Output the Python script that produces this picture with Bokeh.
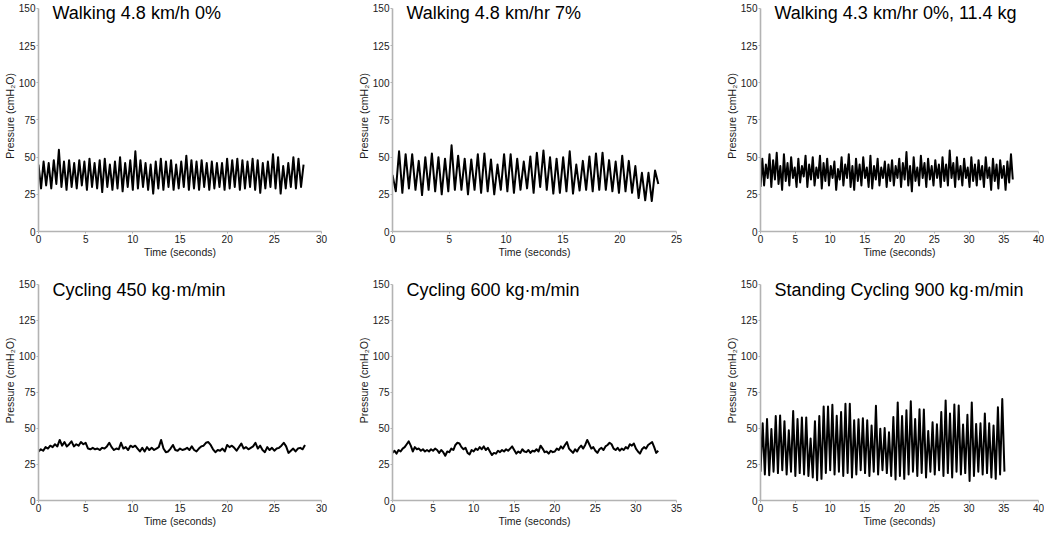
import numpy as np
from bokeh.plotting import figure
from bokeh.layouts import gridplot
from bokeh.models import Range1d, Label, FixedTicker
from bokeh.embed import file_html
from bokeh.resources import INLINE

# ---------------- data ----------------
titles = [
    "Walking 4.8 km/h 0%",
    "Walking 4.8 km/hr 7%",
    "Walking 4.3 km/hr 0%, 11.4 kg",
    "Cycling 450 kg\u00b7m/min",
    "Cycling 600 kg\u00b7m/min",
    "Standing Cycling 900 kg\u00b7m/min",
]
x_max = [30, 25, 40, 30, 35, 40]
y_ticks = [0, 25, 50, 75, 100, 125, 150]

# trace durations (seconds)
durations = [28.1, 23.4, 36.3, 28.25, 32.75, 35.1]

# pressure (cmH2O) at successive peaks / troughs / samples
walk_0 = [45, 29,
          47, 31, 46, 29, 48, 32, 55, 30, 47, 28, 48, 30, 46, 29, 48, 31, 47, 28, 49, 30,
          46, 29, 48, 26.5, 49, 30, 45, 28, 47, 29, 50, 27, 46, 30, 48, 28, 54, 29, 48, 30,
          46, 28, 45, 25.5, 47, 29, 49, 28, 47, 30, 48, 28, 45, 29, 47, 30, 51, 28, 48, 29,
          47, 28, 48, 30, 46, 28, 47, 29, 46, 30, 46, 28, 49, 29, 48, 30, 49, 28, 48, 29,
          47, 30, 49, 28, 48, 26, 46, 29, 47, 30, 52, 29, 50, 25.5, 44, 29, 46, 30, 50, 29,
          49, 30, 45]

walk_7 = [38, 27,
          54, 26, 52, 29, 52, 28, 47.5, 24.5, 50, 28, 52.5, 27, 50, 25, 49, 27, 58, 28,
          51, 28, 49, 25, 48.5, 28, 52, 26, 52.5, 27, 48.5, 25, 45, 28, 52, 27, 52, 26,
          49, 28, 47, 29, 50.5, 26, 53, 30, 54.5, 28, 50, 25.5, 49, 26, 50, 27, 54, 25.5,
          45, 27.5, 47.5, 28, 50.5, 27, 52.5, 28, 53, 28, 48, 27, 47, 26, 51, 27,
          47.5, 26, 44, 22.5, 39.5, 21, 39.5, 20.5, 41, 32]

walk_load = [30,
             49, 31, 45, 36, 52, 30, 48, 35, 53, 32, 44, 28, 52, 34, 46, 31, 50, 36, 43, 30,
             49, 33, 44, 37, 51, 30, 45, 35, 50, 31, 43, 36, 51, 29, 46, 34, 49, 31, 44, 36,
             47, 28, 42, 35, 50, 31, 45, 36, 52, 30, 44, 28, 49, 34, 45, 31, 50, 36, 43, 30,
             51, 29, 44, 35, 49, 31, 43, 36, 47, 30, 45, 34, 48, 31, 44, 36, 49, 30, 46, 35,
             53.5, 31, 44, 27, 50, 34, 43, 31, 51, 36, 46, 30, 49, 35, 44, 31, 48, 36, 45, 30,
             50, 34, 45, 31, 54.5, 36, 46, 30, 50, 35, 44, 31, 49, 36, 43, 30, 50, 34, 45, 31,
             48, 35, 44, 30, 50, 36, 43, 28, 49, 34, 45, 29, 48, 36, 44, 28, 47, 33, 52, 35]

cycle_450 = [34, 35.5, 34.5, 37, 36, 38, 37, 39, 37.5, 42, 38, 40.5, 37.5, 39, 41, 37.5,
             39, 38, 40.5, 39, 40, 36, 35.5, 36.5, 35.5, 36, 35, 36.5, 36, 37.5, 40, 37,
             35, 36, 35.5, 40, 36, 37, 35, 38, 37, 38, 36, 34, 36.5, 34, 37, 35,
             36.5, 35, 36, 37, 42, 36, 33.5, 34, 36, 38.5, 35, 34.5, 36, 35, 35.5, 36.5,
             35, 37.5, 35, 34, 36, 37.5, 38, 40, 40.5, 38.5, 35.5, 33.5, 35, 34.5, 36, 34,
             38.5, 37, 38, 36.5, 34.5, 37, 39.5, 36, 37, 35.5, 36.5, 37.5, 40, 36, 38, 35,
             33.5, 37, 35, 36.5, 34.5, 36, 36.5, 38, 40, 37.5, 33, 34.5, 36, 34, 36, 36.5,
             35.5, 38.5]

cycle_600 = [33, 34.5, 32.5, 35, 34, 36, 37, 39, 41, 38, 34, 37, 35.5, 36, 34.5, 35.5,
             34, 35, 34, 35.5, 34.5, 36, 35, 33, 35, 33.5, 31, 34, 33.5, 36, 35, 38.5,
             40, 39.5, 37, 35.5, 36.5, 33, 32, 35, 34, 36, 35, 37, 35.5, 37.5, 35, 36.5,
             34, 31.5, 33, 32.5, 34.5, 33.5, 35, 34, 35.5, 34.5, 36, 37.5, 35, 32.5, 34, 33,
             35.5, 34, 33.5, 35, 33, 34.5, 34, 35.5, 34, 38, 36, 33.5, 34, 32.5, 34.5, 33.5,
             34, 36, 35, 37.5, 36, 38.5, 40.5, 36, 34.5, 33, 35.5, 34, 36.5, 38, 36, 38.5,
             42, 39, 36, 37, 34.5, 33, 35.5, 36.5, 35, 37.5, 38.5, 40, 39, 36, 35, 36.5,
             34.5, 36, 35, 37, 36, 39, 38, 39.5, 36, 34, 32.5, 35.5, 37, 36, 38.5, 39.5,
             40.5, 37, 33, 34.5]

standing_900 = [20,
                53.5, 18, 56.5, 17.5, 49.5, 20, 58.5, 19, 59, 21, 55, 18, 48.7, 20, 62, 17,
                56.5, 19, 57.6, 18, 57.6, 17, 42.9, 16, 55, 14, 58.5, 15, 65.2, 19, 65.2, 21,
                66.3, 18, 58.7, 20, 61.4, 17, 67, 19, 67, 16, 55.6, 18, 56.3, 21, 57.1, 19,
                55.6, 17, 52, 20, 65.6, 18, 49.8, 21, 50.2, 19, 47.3, 17, 57.8, 14.5, 68, 17,
                58.5, 15, 62.5, 18, 68.8, 20, 56.5, 17, 63.2, 19, 63, 16, 48.2, 20, 54.2, 18,
                52.9, 21, 61.4, 17, 69.4, 19, 60.3, 16, 66.5, 20, 65.8, 18, 52.7, 19, 59.4, 13.5,
                68, 17, 53.1, 20, 53.6, 18, 60.3, 19, 53.6, 16, 52, 15, 64.7, 18, 70.3, 20]

series = [walk_0, walk_7, walk_load, cycle_450, cycle_600, standing_900]

# ---------------- layout ----------------
FONT = "Liberation Sans"
col_w = [350, 350, 344]
col_left = [36, 42, 60]
col_right = [29, 24, 6]
row_h = [260, 269]
row_bottom = [28, 25]
row_gap_px = [8, 24]        # room above the 150 level inside the frame (for the titles)
title_px = [13, 30]         # title baseline, px below the frame top

figs = []
for i, (title, xm, dur, vals) in enumerate(zip(titles, x_max, durations, series)):
    r, c = divmod(i, 3)
    frame_h = row_h[r] - row_bottom[r]
    y_top = 150.0 * frame_h / (frame_h - row_gap_px[r])
    p = figure(width=col_w[c], height=row_h[r], output_backend="svg",
               toolbar_location=None, x_range=Range1d(0, xm), y_range=Range1d(0, y_top),
               min_border_left=col_left[c], min_border_right=col_right[c],
               min_border_top=0, min_border_bottom=row_bottom[r])
    p.outline_line_color = None
    p.grid.visible = False
    p.background_fill_color = "white"
    p.border_fill_color = "white"

    t = np.linspace(0, dur, len(vals))
    p.line(t, vals, line_color="black", line_width=2.0, line_join="round")

    p.xaxis.ticker = FixedTicker(ticks=list(range(0, xm + 1, 5)))
    p.yaxis.ticker = FixedTicker(ticks=y_ticks)
    p.yaxis.bounds = (0, 150)
    p.xaxis.axis_label = "Time (seconds)"
    p.yaxis.axis_label = "Pressure (cmH\u2082O)"
    for ax in (p.xaxis, p.yaxis):
        ax.axis_line_color = "#b3b3b3"
        ax.axis_line_width = 1.6
        ax.major_tick_line_color = "#b3b3b3"
        ax.major_tick_out = 2
        ax.major_tick_in = 0
        ax.minor_tick_line_color = None
        ax.major_label_text_font = FONT
        ax.major_label_text_font_size = "10px"
        ax.major_label_text_color = "#1a1a1a"
        ax.major_label_standoff = 1
        ax.axis_label_text_font = FONT
        ax.axis_label_text_font_size = "10.5px"
        ax.axis_label_text_font_style = "normal"
        ax.axis_label_text_color = "#1a1a1a"
        ax.axis_label_standoff = 0

    title_y = y_top * (1 - title_px[r] / frame_h)
    p.add_layout(Label(x=0, y=title_y, x_offset=14, text=title, text_font=FONT,
                       text_font_size="18px", text_color="black",
                       text_baseline="alphabetic", text_align="left"))
    figs.append(p)

grid = gridplot([figs[:3], figs[3:]], toolbar_location=None)
open("out.html", "w").write(file_html(grid, INLINE))
